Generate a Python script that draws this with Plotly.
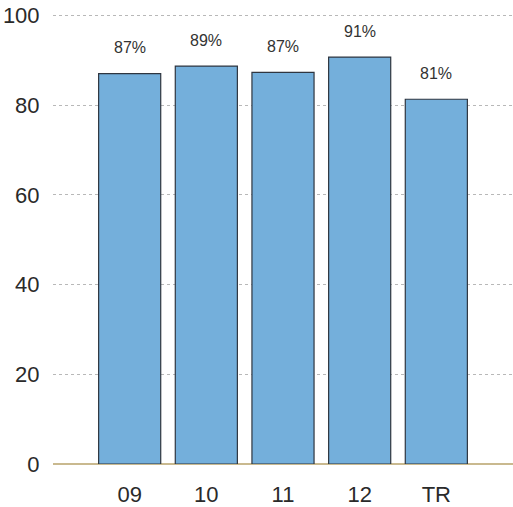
import plotly.graph_objects as go

categories = ["09", "10", "11", "12", "TR"]
values = [87.0, 88.7, 87.3, 90.7, 81.3]
labels = ["87%", "89%", "87%", "91%", "81%"]
y_ticks = [0, 20, 40, 60, 80, 100]

fig = go.Figure()
fig.add_trace(go.Bar(
    x=categories, y=values, width=0.81,
    marker=dict(color="#74afdb", line=dict(color="#2f3640", width=1.2)),
    hoverinfo="skip",
))

for i, (v, t) in enumerate(zip(values, labels)):
    fig.add_annotation(x=i, y=v, text=t, showarrow=False, yanchor="middle",
                       yshift=26, font=dict(family="Liberation Sans", size=16, color="#333"))

fig.update_layout(
    width=513, height=507,
    margin=dict(l=53, r=0, t=14, b=43),
    paper_bgcolor="white", plot_bgcolor="white",
    showlegend=False,
    font=dict(family="Liberation Sans", color="#2a2a2a"),
)
fig.update_xaxes(
    type="category", range=[-1.0, 5.0], showgrid=False, zeroline=False,
    showline=False, ticks="outside", ticklen=11, tickcolor="rgba(0,0,0,0)",
    tickfont=dict(size=22),
)
fig.update_yaxes(
    range=[0, 100.3], tickvals=y_ticks, showgrid=True, gridcolor="#b8b8b8",
    griddash="dot", gridwidth=1, zeroline=True, zerolinecolor="#c9b98f",
    zerolinewidth=1.5, showline=False, ticks="outside", ticklen=8,
    tickcolor="rgba(0,0,0,0)", tickfont=dict(size=22),
)

fig.write_html("out.html")
